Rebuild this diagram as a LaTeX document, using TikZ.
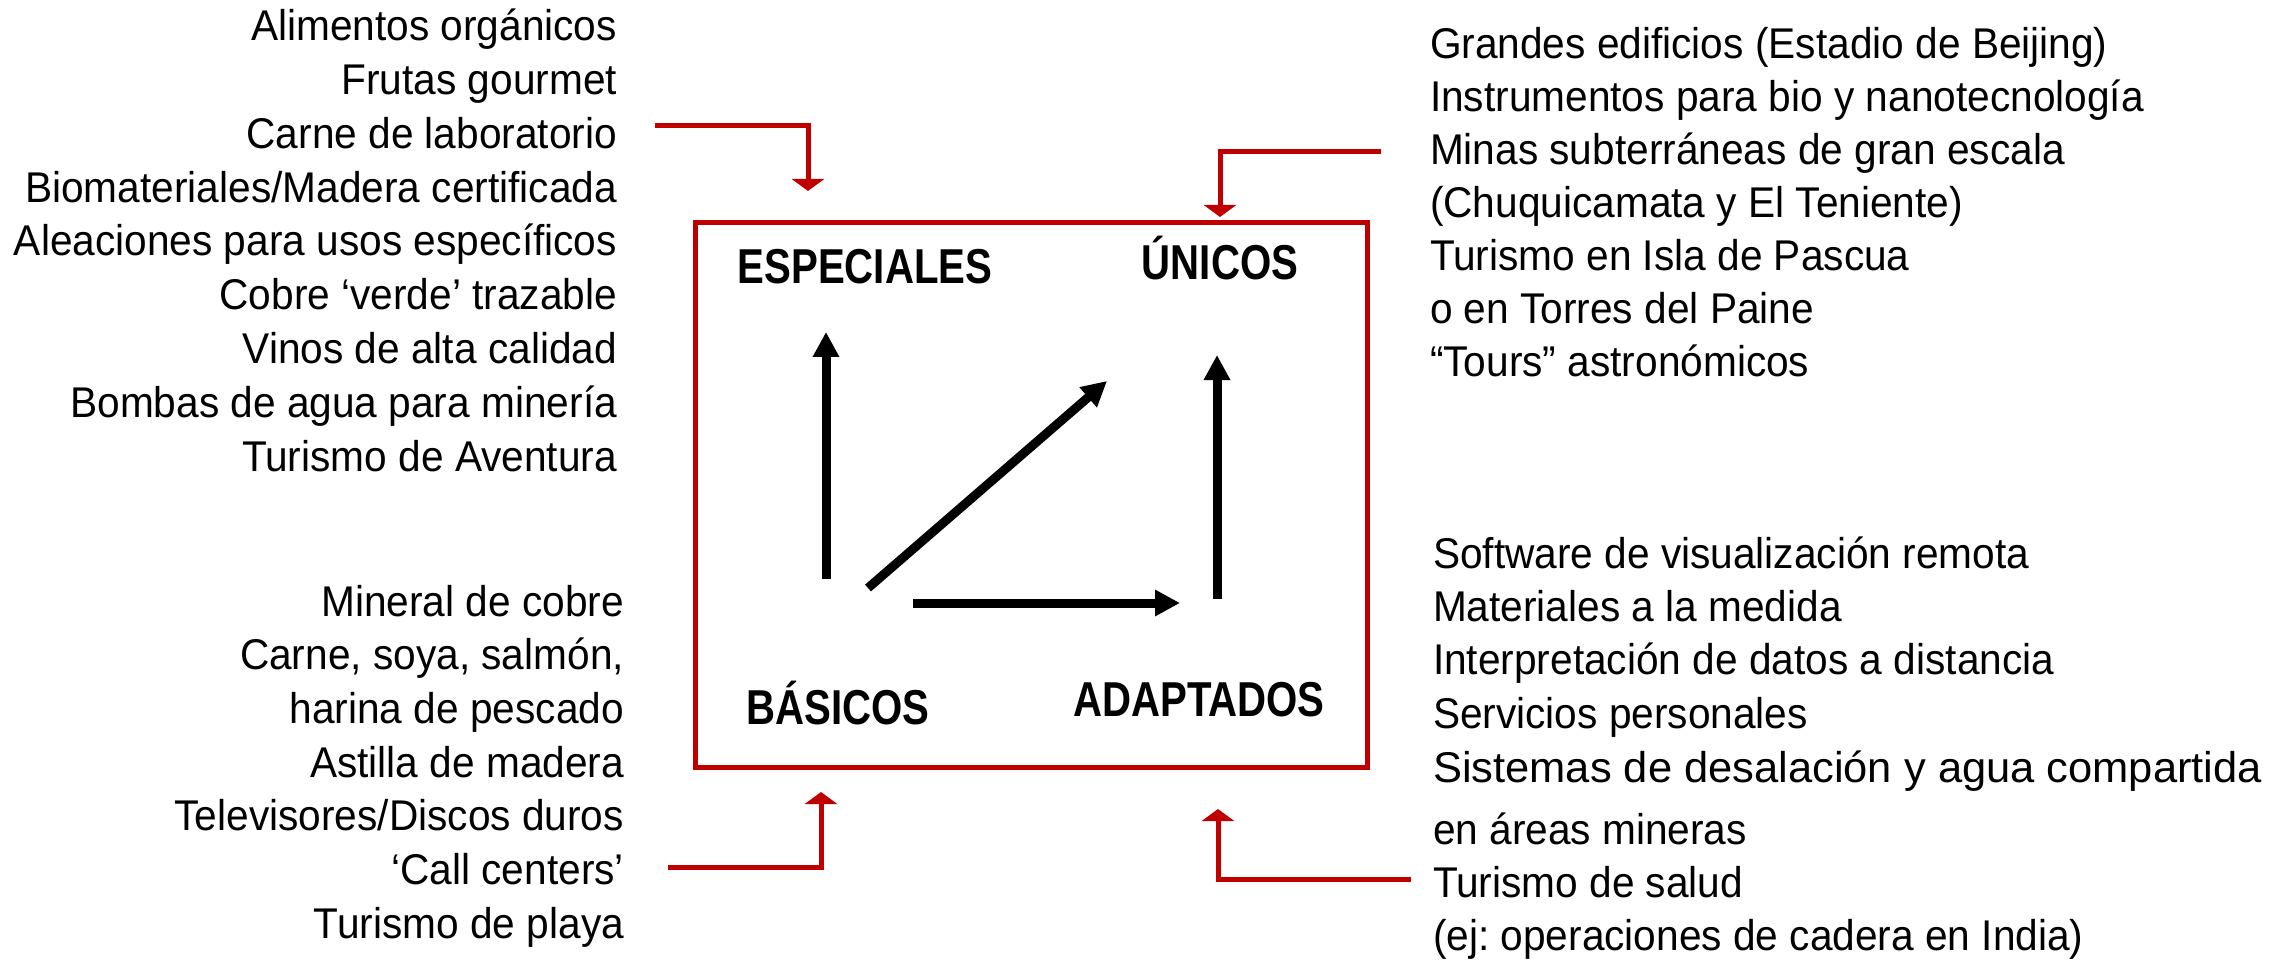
\documentclass[tikz,border=0pt]{standalone}
\usepackage{fontspec}
\setmainfont{Liberation Sans}
\newfontfamily\bodyfont[FakeStretch=0.945]{Liberation Sans}
\newfontfamily\titlefont[FakeStretch=0.82]{Liberation Sans}
\usetikzlibrary{arrows.meta}
\definecolor{myred}{RGB}{192,0,0}
\frenchspacing
\tikzset{
  bodytext/.style={font=\bodyfont\fontsize{43}{50}\selectfont\frenchspacing, inner sep=0pt, outer sep=0pt},
  titletext/.style={font=\titlefont\bfseries\fontsize{49}{56}\selectfont, inner sep=0pt, anchor=base},
  redconn/.style={draw=myred, line width=5pt, line join=miter, -{Triangle[width=32pt,length=12pt]}},
  blackarrow/.style={draw=black, line width=9pt, -{Triangle[width=25pt,length=25pt]}},
  redframe/.style={draw=myred, line width=5pt, inner sep=0pt, minimum width=672pt, minimum height=544pt}
}
\begin{document}
\begin{tikzpicture}[x=1pt,y=-1pt]
\useasboundingbox (0,0) rectangle (2295,968);

% frame
\node[redframe] (frame) at (1031,495) {};

% titles
\node[titletext] (esp) at (865,284) {ESPECIALES};
\node[titletext] (uni) at (1220,280) {ÚNICOS};
\node[titletext] (bas) at (838,724) {BÁSICOS};
\node[titletext] (ada) at (1199,716) {ADAPTADOS};

% left top list
\foreach \t [count=\i] in {Alimentos orgánicos, Frutas gourmet, Carne de laboratorio,
  {Biomateriales/Madera certificada}, Aleaciones para usos específicos,
  Cobre ‘verde’ trazable, Vinos de alta calidad, Bombas de agua para minería,
  Turismo de Aventura}
  \node[bodytext, anchor=base east] (lt\i) at (617,{41+53.75*(\i-1)}) {\t};

% left bottom list
\foreach \t [count=\i] in {Mineral de cobre, {Carne, soya, salmón,}, harina de pescado,
  Astilla de madera, {Televisores/Discos duros}, ‘Call centers’, Turismo de playa}
  \node[bodytext, anchor=base east] (lb\i) at (624,{616+53.7*(\i-1)}) {\t};

% right top list
\foreach \t [count=\i] in {Grandes edificios (Estadio de Beijing),
  Instrumentos para bio y nanotecnología, Minas subterráneas de gran escala,
  (Chuquicamata y El Teniente), Turismo en Isla de Pascua, o en Torres del Paine,
  “Tours” astronómicos}
  \node[bodytext, anchor=base west] (rt\i) at (1430,{59+53*(\i-1)}) {\t};

% right bottom list
\node[bodytext, anchor=base west] (rb1) at (1433,568) {Software de visualización remota};
\node[bodytext, anchor=base west] (rb2) at (1433,621) {Materiales a la medida};
\node[bodytext, anchor=base west] (rb3) at (1433,674) {Interpretación de datos a distancia};
\node[bodytext, anchor=base west] (rb4) at (1433,728) {Servicios personales};
\node[bodytext, anchor=base west] (rb5) at (1433,782) {\scalebox{1.07}[1]{Sistemas de desalación y agua compartida}};
\node[bodytext, anchor=base west] (rb6) at (1433,844) {en áreas mineras};
\node[bodytext, anchor=base west] (rb7) at (1433,897) {Turismo de salud};
\node[bodytext, anchor=base west] (rb8) at (1433,950) {(ej: operaciones de cadera en India)};

% black arrow ends
\coordinate (a1s) at (826,579);  \coordinate (a1e) at (826,332);
\coordinate (a2s) at (868,588);  \coordinate (a2e) at (1107,381);
\coordinate (a3s) at (913,603);  \coordinate (a3e) at (1180,603);
\coordinate (a4s) at (1217,599); \coordinate (a4e) at (1217,355);
\draw[blackarrow] (a1s) -- (a1e);
\draw[blackarrow] (a2s) -- (a2e);
\draw[blackarrow] (a3s) -- (a3e);
\draw[blackarrow] (a4s) -- (a4e);

% red connectors
\coordinate (r1s) at (655,126);  \coordinate (r1e) at (808,191);
\coordinate (r2s) at (1381,152); \coordinate (r2e) at (1220,217);
\coordinate (r3s) at (668,867);  \coordinate (r3e) at (821,792);
\coordinate (r4s) at (1411,879); \coordinate (r4e) at (1218,809);
\draw[redconn] (r1s) -| (r1e);
\draw[redconn] (r2s) -| (r2e);
\draw[redconn] (r3s) -| (r3e);
\draw[redconn] (r4s) -| (r4e);
\end{tikzpicture}
\end{document}
